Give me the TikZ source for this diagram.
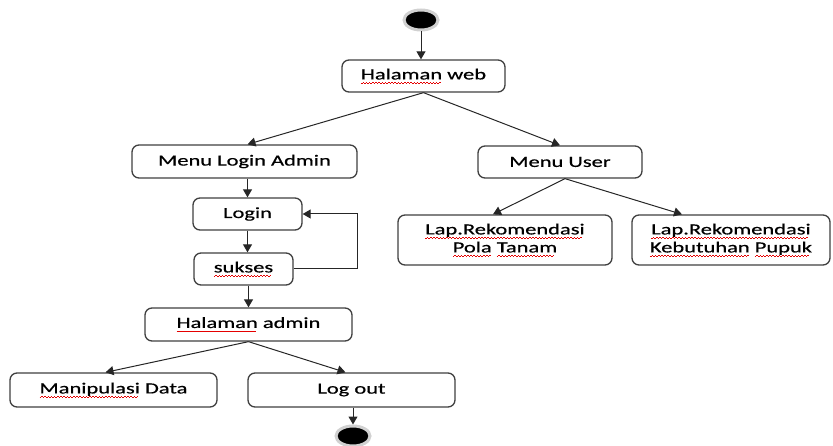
\documentclass[tikz,border=0pt]{standalone}
\usepackage{fontspec}
\setmainfont{Carlito}[FakeBold=0.5]
\usetikzlibrary{arrows.meta,shapes.geometric}

% red wavy underline for flagged words, built from tiny offset rules
\newcommand\sqw[1]{\setbox0\hbox{#1}%
  \rlap{\textcolor{red!90!black}{\hbox to \wd0{\leaders\hbox{%
    \rule[-3.9pt]{1.1pt}{0.6pt}\rule[-3.2pt]{1.1pt}{0.6pt}}\hfill}}}%
  \box0\relax}
% wide lettering
\newcommand\wide[1]{\scalebox{1.45}[1]{#1}}

\tikzset{
  stepbox/.style={draw=black!75, line width=1.3pt, rounded corners=7pt,
    fill=white, inner sep=0pt, align=center,
    font=\fontsize{15.5}{18}\selectfont},
  flow/.style={draw=black!85, line width=1pt, -{Triangle[length=8pt,width=9pt]}},
  terminal/.style={ellipse, fill=black, draw=black!18, line width=3pt,
    minimum width=34pt, minimum height=20pt, inner sep=0pt}
}

\begin{document}
\begin{tikzpicture}[x=1pt,y=-1pt]
\useasboundingbox (0,0) rectangle (833,446);

% states
\node[terminal] (start) at (421,20) {};
\node[stepbox, minimum width=163pt, minimum height=32pt] (web) at (423.5,76) {\wide{\sqw{Halaman} web}};
\node[stepbox, minimum width=225pt, minimum height=33pt] (mla) at (244.5,161.5) {\wide{Menu Login Admin}};
\node[stepbox, minimum width=164pt, minimum height=32pt] (mu) at (560,162) {\wide{Menu User}};
\node[stepbox, minimum width=109pt, minimum height=32pt] (login) at (247.5,214) {\wide{Login}};
\node[stepbox, minimum width=99pt, minimum height=32pt] (sukses) at (243.5,269) {\wide{\sqw{sukses}}};
\node[stepbox, minimum width=207pt, minimum height=33pt] (hadm) at (248.5,324.5) {\wide{\sqw{Halaman} admin}};
\node[stepbox, minimum width=207pt, minimum height=34pt] (manip) at (113.5,390) {\wide{\sqw{Manipulasi} Data}};
\node[stepbox, minimum width=207pt, minimum height=34pt] (logout) at (351.5,390) {\wide{Log out}};
\node[stepbox, minimum width=214pt, minimum height=50pt] (pola) at (505,240)
  {\wide{\sqw{Lap.Rekomendasi}}\\\wide{\sqw{Pola} \sqw{Tanam}}};
\node[stepbox, minimum width=198pt, minimum height=50pt] (pupuk) at (731,240)
  {\wide{\sqw{Lap.Rekomendasi}}\\\wide{\sqw{Kebutuhan} \sqw{Pupuk}}};
\node[terminal] (end) at (353,436) {};

% transitions
\draw[flow] (start) -- (web.north -| start);
\draw[flow] (web.south) -- ([xshift=3pt]mla.north);
\draw[flow] (web.south) -- (mu.north);
\draw[flow] (mla.south -| login.north) -- (login.north);
\draw[flow] (login.south) -- (login.south |- sukses.north);
\draw[flow] (hadm.north |- sukses.south) -- (hadm.north);
\draw[flow] (sukses.east) -- ++(64,0) |- (login.east);
\draw[flow] (hadm.south) -- ([xshift=-8pt]manip.north);
\draw[flow] (hadm.south) -- ([xshift=-6pt]logout.north);
\draw[flow] ([xshift=5pt]mu.south) -- ([xshift=-12pt]pola.north);
\draw[flow] ([xshift=5pt]mu.south) -- ([xshift=-49pt]pupuk.north);
\draw[flow] (logout.south -| end) -- (end.north);
\end{tikzpicture}
\end{document}
